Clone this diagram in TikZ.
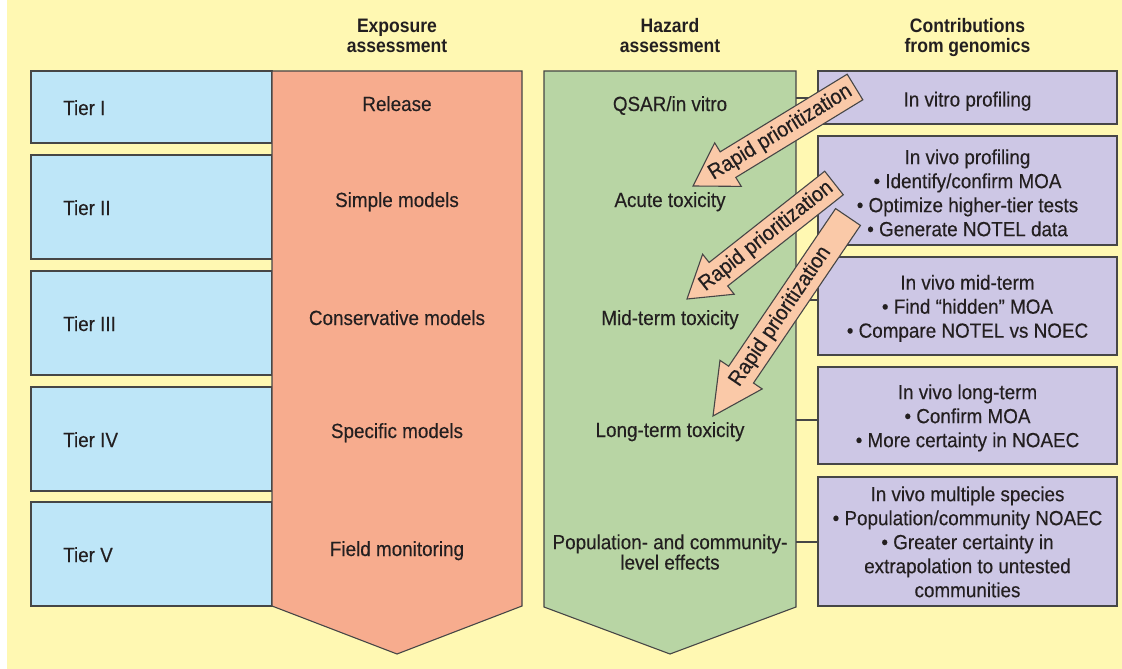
\documentclass[tikz,border=0pt]{standalone}
\usepackage{fontspec}
\setmainfont{Liberation Sans}[FakeStretch=0.92, FakeBold=0.3]
\newfontfamily\hdrfont{Liberation Sans}[FakeStretch=0.9]
\usetikzlibrary{calc}
\definecolor{bgyellow}{RGB}{255,248,178}
\definecolor{tierblue}{RGB}{190,230,248}
\definecolor{expfill}{RGB}{247,172,142}
\definecolor{hazfill}{RGB}{184,213,164}
\definecolor{genfill}{RGB}{205,199,229}
\definecolor{arrfill}{RGB}{250,201,168}
\definecolor{linecol}{RGB}{70,70,70}
\definecolor{textcol}{RGB}{35,31,32}
\newcommand{\fl}{\rule{0pt}{16pt}}
\newcommand{\bigarrow}[2]{%
  \coordinate (#1b) at ($(#1p)!#2pt!(#1t)$);
  \draw[arrowshape] ($(#1t)!15pt!90:(#1p)$) -- ($(#1b)!15pt!90:(#1p)$)
    -- ($(#1b)!25.5pt!90:(#1p)$) -- (#1p) -- ($(#1b)!25.5pt!-90:(#1p)$)
    -- ($(#1b)!15pt!-90:(#1p)$) -- ($(#1t)!15pt!-90:(#1p)$) -- cycle;
}
\begin{document}
\begin{tikzpicture}[x=1pt,y=-1pt,
  outl/.style={draw=linecol, line width=1.1pt, line join=miter},
  tiernode/.style={outl, fill=tierblue, rectangle, inner sep=0pt, outer sep=0pt, anchor=north west, minimum width=241pt},
  genbox/.style={outl, fill=genfill, rectangle, inner sep=0pt, outer sep=0pt, anchor=north west, minimum width=299pt},
  lbl/.style={text=textcol, inner sep=0pt, font=\fontsize{20.5}{24}\selectfont, anchor=base},
  multi/.style={text=textcol, inner sep=0pt, align=center, anchor=north, font=\fontsize{20.5}{24}\selectfont},
  hdr/.style={text=textcol, inner sep=0pt, align=center, anchor=north, font=\hdrfont\bfseries\fontsize{19.5}{20}\selectfont},
  conn/.style={draw=linecol, line width=1.1pt},
  arrowshape/.style={outl, fill=arrfill},
  arrtxt/.style={text=textcol, inner sep=0pt, font=\fontsize{21.5}{24}\selectfont}]
\fill[white] (0,0) rectangle (1122,669);
\fill[bgyellow] (7,0) rectangle (1122,669);
\useasboundingbox (0,0) rectangle (1122,669);

% headers
\node[hdr] (hexp) at (397,16) {\fl Exposure\\assessment};
\node[hdr] (hhaz) at (670,16) {\fl Hazard\\assessment};
\node[hdr] (hgen) at (967.5,16) {\fl Contributions\\from genomics};

% tiers
\node[tiernode, minimum height=72pt] (t1) at (31,71) {};
\node[tiernode, minimum height=104pt] (t2) at (31,155) {};
\node[tiernode, minimum height=104pt] (t3) at (31,271) {};
\node[tiernode, minimum height=104pt] (t4) at (31,387) {};
\node[tiernode, minimum height=104pt] (t5) at (31,502) {};
\node[lbl, anchor=base west] (l1) at (63,115) {Tier I};
\node[lbl, anchor=base west] (l2) at (63,215) {Tier II};
\node[lbl, anchor=base west] (l3) at (63,331) {Tier III};
\node[lbl, anchor=base west] (l4) at (63,447) {Tier IV};
\node[lbl, anchor=base west] (l5) at (63,562) {Tier V};

% exposure column
\draw[outl, fill=expfill] (272,71) -- (522,71) -- (522,606) -- (397,654) -- (272,606) -- cycle;
\node[lbl] (e1) at (397,111) {Release};
\node[lbl] (e2) at (397,207) {Simple models};
\node[lbl] (e3) at (397,325) {Conservative models};
\node[lbl] (e4) at (397,438) {Specific models};
\node[lbl] (e5) at (397,556) {Field monitoring};

% hazard column
\draw[outl, fill=hazfill] (544,71) -- (796,71) -- (796,607) -- (670,654) -- (544,607) -- cycle;
\node[lbl] (z1) at (670,111) {QSAR/in vitro};
\node[lbl] (z2) at (670,207) {Acute toxicity};
\node[lbl] (z3) at (670,325) {Mid-term toxicity};
\node[lbl] (z4) at (670,437) {Long-term toxicity};
\node[multi, font=\fontsize{20.5}{20.3}\selectfont] (z5) at (670,533) {\fl Population- and community-\\level effects};

% genomics boxes
\node[genbox, minimum height=53pt] (p1) at (818,71) {};
\node[genbox, minimum height=109pt] (p2) at (818,136) {};
\node[genbox, minimum height=98pt] (p3) at (818,257) {};
\node[genbox, minimum height=97pt] (p4) at (818,367) {};
\node[genbox, minimum height=129pt] (p5) at (818,477) {};
\node[lbl] (g1) at (967.5,106.5) {In vitro profiling};
\node[multi] (g2) at (967.5,148) {\fl In vivo profiling\\• Identify/confirm MOA\\• Optimize higher-tier tests\\• Generate NOTEL data};
\node[multi] (g3) at (967.5,273.5) {\fl In vivo mid-term\\• Find “hidden” MOA\\• Compare NOTEL vs NOEC};
\node[multi] (g4) at (967.5,383) {\fl In vivo long-term\\• Confirm MOA\\• More certainty in NOAEC};
\node[multi] (g5) at (967.5,485) {\fl In vivo multiple species\\• Population/community NOAEC\\• Greater certainty in\\extrapolation to untested\\communities};

% connectors
\coordinate (k1) at (796,98);
\coordinate (k3) at (796,300);
\coordinate (k4) at (796,420);
\coordinate (k5) at (796,542);
\draw[conn] (k1) -- (k1 -| p1.west);
\draw[conn] (k3) -- (k3 -| p3.west);
\draw[conn] (k4) -- (k4 -| p4.west);
\draw[conn] (k5) -- (k5 -| p5.west);

% rapid prioritization arrows
\coordinate (a3t) at (848,217);
\coordinate (a3p) at (713,416);
\bigarrow{a3}{50}
\path (a3p) -- node[arrtxt, sloped, pos=0.5] (r3) {Rapid prioritization} (a3t);
\coordinate (a2t) at (834,183);
\coordinate (a2p) at (687,299);
\bigarrow{a2}{40}
\path (a2p) -- node[arrtxt, sloped, pos=0.54] (r2) {Rapid prioritization} (a2t);
\coordinate (a1t) at (855,87);
\coordinate (a1p) at (693,186);
\bigarrow{a1}{41}
\path (a1p) -- node[arrtxt, sloped, pos=0.54] (r1) {Rapid prioritization} (a1t);
\end{tikzpicture}
\end{document}
